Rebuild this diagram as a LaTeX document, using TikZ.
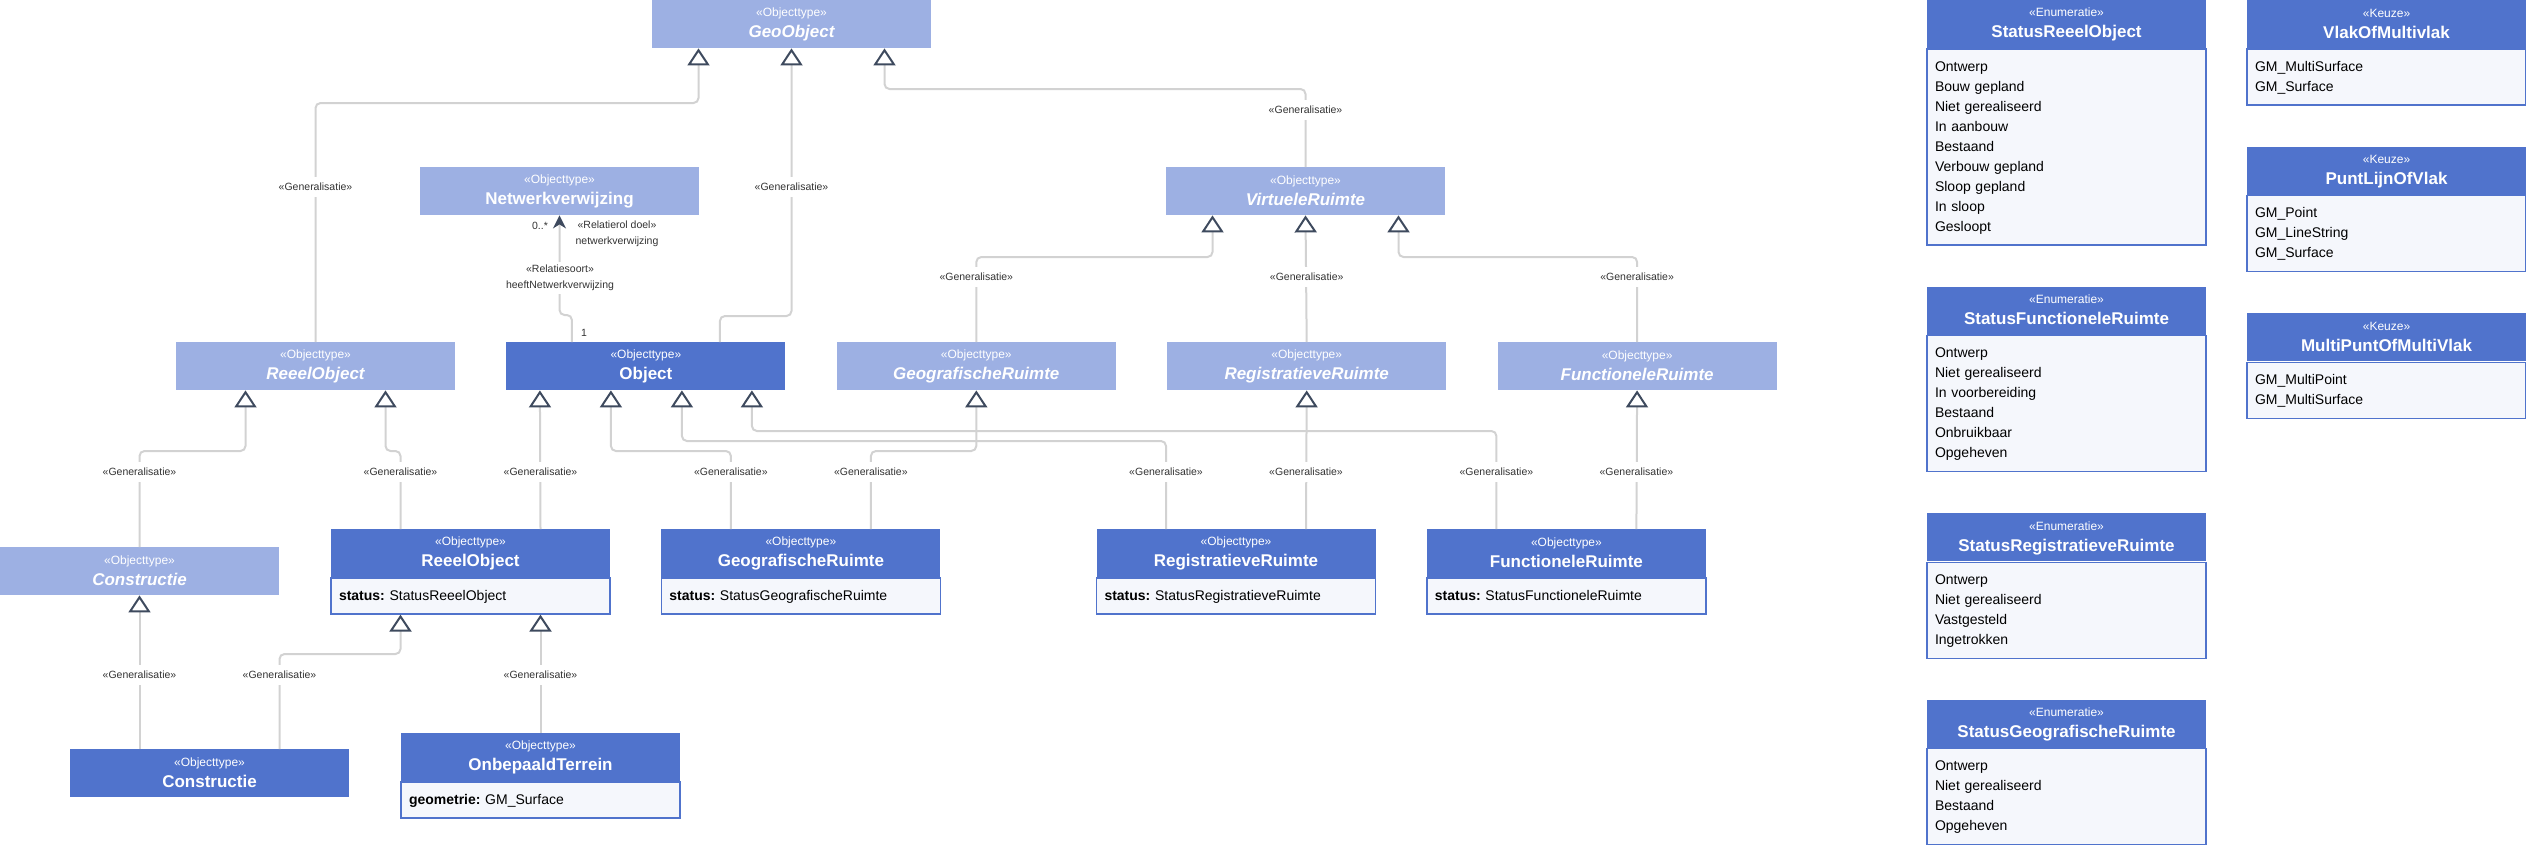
\documentclass[tikz,border=0pt]{standalone}
\usepackage{fontspec}
\setmainfont{Liberation Sans}
\usetikzlibrary{arrows.meta,positioning}
\definecolor{hdrdark}{HTML}{5073CC}
\definecolor{hdrlight}{HTML}{9DB0E3}
\definecolor{bodyfill}{HTML}{F5F7FC}
\definecolor{linegray}{HTML}{D2D2D2}
\definecolor{tipdark}{HTML}{3E4A5E}
\definecolor{lbltext}{HTML}{333333}
\newcommand\stereo[1]{{\mdseries\upshape\fontsize{12}{21}\selectfont «#1»}}
\tikzset{
  classhead/.style={rectangle,fill=hdrdark,text=white,anchor=north,
    minimum width=279pt,minimum height=48pt,text width=263pt,
    inner xsep=8pt,inner ysep=0pt,align=center,
    font=\fontsize{17}{21}\selectfont\bfseries,
    execute at begin node={\rule{0pt}{10pt}},
    execute at end node={\rule[-3pt]{0pt}{3pt}}},
  lighthead/.style={classhead,fill=hdrlight},
  abshead/.style={lighthead,font=\fontsize{17}{21}\selectfont\bfseries\itshape},
  classbody/.style={rectangle,draw=hdrdark,line width=1.2pt,fill=bodyfill,
    text=black,anchor=north,text width=263pt,inner xsep=8pt,inner ysep=8pt,
    align=left,font=\fontsize{14}{20}\selectfont\frenchspacing,
    execute at begin node={\rule{0pt}{14pt}},
    execute at end node={\rule[-6pt]{0pt}{6pt}}},
  genline/.style={draw=linegray,line width=2pt,rounded corners=5pt,
    -{Triangle[open,fill=white,color=tipdark,line width=2pt,length=17pt,width=22pt]}},
  navline/.style={draw=linegray,line width=2pt,rounded corners=5pt,
    -{Stealth[length=13pt,width=13pt,inset=4pt,color=tipdark]}},
  genlabel/.style={fill=white,text=lbltext,font=\fontsize{10.5}{12}\selectfont,
    inner xsep=2pt,inner ysep=6pt},
  asslabel/.style={text=lbltext,font=\fontsize{10.5}{16}\selectfont,
    inner sep=2pt,align=center},
}

\begin{document}
\begin{tikzpicture}[x=1pt,y=-1pt]
  \useasboundingbox (0,0) rectangle (2526,844);

  %% ── Top: GeoObject, Netwerkverwijzing, VirtueleRuimte ─────────────────────
  \node[abshead]   (geoobject) at (791.5,0)   {\stereo{Objecttype}\\GeoObject};
  \node[lighthead] (netwerk)   at (559.5,167) {\stereo{Objecttype}\\Netwerkverwijzing};
  \node[abshead]   (virtueel)  at (1305.5,167){\stereo{Objecttype}\\VirtueleRuimte};

  %% ── Abstract row ──────────────────────────────────────────────────────────
  \node[abshead] (reeelabs) at (315.5,342) {\stereo{Objecttype}\\ReeelObject};
  \node[classhead, right=51pt of reeelabs] (object)  {\stereo{Objecttype}\\Object};
  \node[abshead, right=51pt of object]     (geoabs)  {\stereo{Objecttype}\\GeografischeRuimte};
  \node[abshead, right=51pt of geoabs]     (regabs)  {\stereo{Objecttype}\\RegistratieveRuimte};
  \node[abshead, right=51pt of regabs]     (funcabs) {\stereo{Objecttype}\\FunctioneleRuimte};

  %% ── Concrete row ──────────────────────────────────────────────────────────
  \node[abshead] (constrabs) at (139.5,547) {\stereo{Objecttype}\\Constructie};
  \node[classhead] (reeel) at (470.5,529) {\stereo{Objecttype}\\ReeelObject};
  \node[classbody, below=0pt of reeel] (reeelbody) {\textbf{status:} StatusReeelObject};
  \node[classhead, right=51pt of reeel] (geo) {\stereo{Objecttype}\\GeografischeRuimte};
  \node[classbody, below=0pt of geo] (geobody) {\textbf{status:} StatusGeografischeRuimte};
  \node[classhead] (reg) at (1236,529) {\stereo{Objecttype}\\RegistratieveRuimte};
  \node[classbody, below=0pt of reg] (regbody) {\textbf{status:} StatusRegistratieveRuimte};
  \node[classhead, right=51pt of reg] (func) {\stereo{Objecttype}\\FunctioneleRuimte};
  \node[classbody, below=0pt of func] (funcbody) {\textbf{status:} StatusFunctioneleRuimte};

  %% ── Bottom row ────────────────────────────────────────────────────────────
  \node[classhead] (constr) at (209.5,749) {\stereo{Objecttype}\\Constructie};
  \node[classhead] (onbepaald) at (540.5,733) {\stereo{Objecttype}\\OnbepaaldTerrein};
  \node[classbody, below=0pt of onbepaald] (onbepaaldbody) {\textbf{geometrie:} GM\_Surface};

  %% ── Enumerations ──────────────────────────────────────────────────────────
  \node[classhead] (statreeel) at (2066.5,0) {\stereo{Enumeratie}\\StatusReeelObject};
  \node[classbody, below=0pt of statreeel] (statreeellist)
    {Ontwerp\\Bouw gepland\\Niet gerealiseerd\\In aanbouw\\Bestaand\\Verbouw gepland\\Sloop gepland\\In sloop\\Gesloopt};
  \node[classhead, below=41pt of statreeellist] (statfunc) {\stereo{Enumeratie}\\StatusFunctioneleRuimte};
  \node[classbody, below=0pt of statfunc] (statfunclist)
    {Ontwerp\\Niet gerealiseerd\\In voorbereiding\\Bestaand\\Onbruikbaar\\Opgeheven};
  \node[classhead, below=41pt of statfunclist] (statreg) {\stereo{Enumeratie}\\StatusRegistratieveRuimte};
  \node[classbody, below=0pt of statreg] (statreglist)
    {Ontwerp\\Niet gerealiseerd\\Vastgesteld\\Ingetrokken};
  \node[classhead, below=41pt of statreglist] (statgeo) {\stereo{Enumeratie}\\StatusGeografischeRuimte};
  \node[classbody, below=0pt of statgeo] (statgeolist)
    {Ontwerp\\Niet gerealiseerd\\Bestaand\\Opgeheven};

  %% ── Keuzes ────────────────────────────────────────────────────────────────
  \node[classhead] (vlak) at (2386.5,0) {\stereo{Keuze}\\VlakOfMultivlak};
  \node[classbody, below=0pt of vlak] (vlaklist) {GM\_MultiSurface\\GM\_Surface};
  \node[classhead, below=41pt of vlaklist] (punt) {\stereo{Keuze}\\PuntLijnOfVlak};
  \node[classbody, below=0pt of punt] (puntlist) {GM\_Point\\GM\_LineString\\GM\_Surface};
  \node[classhead, below=41pt of puntlist] (multi) {\stereo{Keuze}\\MultiPuntOfMultiVlak};
  \node[classbody, below=0pt of multi] (multilist) {GM\_MultiPoint\\GM\_MultiSurface};

  %% ── Lanes for the bends ───────────────────────────────────────────────────
  \coordinate (laneA) at (0,103);
  \coordinate (laneB) at (0,316);
  \coordinate (laneC) at (0,89);
  \coordinate (laneD) at (0,257);
  \coordinate (laneE) at (0,451);
  \coordinate (laneF) at (0,441);
  \coordinate (laneG) at (0,431);
  \coordinate (laneH) at (0,654);
  \coordinate (laneN) at (0,315);

  %% ── Generalisations ───────────────────────────────────────────────────────
  \draw[genline] (reeelabs.north) -- (reeelabs.north |- laneA) -| ([xshift=-93pt]geoobject.south);
  \draw[genline] ([xshift=74pt]object.north) -- ([xshift=74pt]object.north |- laneB) -| (geoobject.south);
  \draw[genline] (virtueel.north) -- (virtueel.north |- laneC) -| ([xshift=93pt]geoobject.south);
  \draw[genline] (geoabs.north) -- (geoabs.north |- laneD) -| ([xshift=-93pt]virtueel.south);
  \draw[genline] (regabs.north) -- (virtueel.south);
  \draw[genline] (funcabs.north) -- (funcabs.north |- laneD) -| ([xshift=93pt]virtueel.south);

  \draw[genline] (constrabs.north) -- (constrabs.north |- laneE) -| ([xshift=-70pt]reeelabs.south);
  \draw[genline] ([xshift=-70pt]reeel.north) -- ([xshift=-70pt]reeel.north |- laneE) -| ([xshift=70pt]reeelabs.south);
  \draw[genline] ([xshift=70pt]reeel.north) -- ([xshift=-106pt]object.south);
  \draw[genline] ([xshift=-70pt]geo.north) -- ([xshift=-70pt]geo.north |- laneE) -| ([xshift=-35pt]object.south);
  \draw[genline] ([xshift=-70pt]reg.north) -- ([xshift=-70pt]reg.north |- laneF) -| ([xshift=36pt]object.south);
  \draw[genline] ([xshift=-70pt]func.north) -- ([xshift=-70pt]func.north |- laneG) -| ([xshift=106pt]object.south);
  \draw[genline] ([xshift=70pt]geo.north) -- ([xshift=70pt]geo.north |- laneE) -| (geoabs.south);
  \draw[genline] ([xshift=70pt]reg.north) -- (regabs.south);
  \draw[genline] ([xshift=70pt]func.north) -- (funcabs.south);

  \draw[genline] ([xshift=-70pt]constr.north) -- (constrabs.south);
  \draw[genline] ([xshift=70pt]constr.north) -- ([xshift=70pt]constr.north |- laneH) -| ([xshift=-70pt]reeelbody.south);
  \draw[genline] (onbepaald.north) -- ([xshift=70pt]reeelbody.south);

  %% ── Association Object -> Netwerkverwijzing ───────────────────────────────
  \draw[navline] ([xshift=-74pt]object.north) -- ([xshift=-74pt]object.north |- laneN) -| (netwerk.south);

  %% ── Labels ────────────────────────────────────────────────────────────────
  \coordinate (lblA) at (0,187);
  \coordinate (lblB) at (0,110);
  \coordinate (lblC) at (0,277);
  \coordinate (lblD) at (0,472);
  \coordinate (lblE) at (0,675);

  \node[genlabel] (g1)  at (reeelabs.north |- lblA) {«Generalisatie»};
  \node[genlabel] (g2)  at (geoobject.south |- lblA) {«Generalisatie»};
  \node[genlabel] (g3)  at (virtueel.north |- lblB) {«Generalisatie»};
  \node[genlabel] (g4)  at (geoabs.north |- lblC) {«Generalisatie»};
  \node[genlabel] (g5)  at (regabs.north |- lblC) {«Generalisatie»};
  \node[genlabel] (g6)  at (funcabs.north |- lblC) {«Generalisatie»};
  \node[genlabel] (g7)  at (constrabs.north |- lblD) {«Generalisatie»};
  \node[genlabel] (g8)  at ([xshift=-70pt]reeel.north |- lblD) {«Generalisatie»};
  \node[genlabel] (g9)  at ([xshift=70pt]reeel.north |- lblD) {«Generalisatie»};
  \node[genlabel] (g10) at ([xshift=-70pt]geo.north |- lblD) {«Generalisatie»};
  \node[genlabel] (g11) at ([xshift=70pt]geo.north |- lblD) {«Generalisatie»};
  \node[genlabel] (g12) at ([xshift=-70pt]reg.north |- lblD) {«Generalisatie»};
  \node[genlabel] (g13) at ([xshift=70pt]reg.north |- lblD) {«Generalisatie»};
  \node[genlabel] (g14) at ([xshift=-70pt]func.north |- lblD) {«Generalisatie»};
  \node[genlabel] (g15) at ([xshift=70pt]func.north |- lblD) {«Generalisatie»};
  \node[genlabel] (g16) at ([xshift=-70pt]constr.north |- lblE) {«Generalisatie»};
  \node[genlabel] (g17) at ([xshift=70pt]constr.north |- lblE) {«Generalisatie»};
  \node[genlabel] (g18) at (onbepaald.north |- lblE) {«Generalisatie»};

  \node[asslabel] (mult0) at (540,226) {0..*};
  \node[asslabel] (role)  at (617,234) {«Relatierol doel»\\netwerkverwijzing};
  \node[asslabel,fill=white,inner sep=3pt] (relsoort) at (560,278) {«Relatiesoort»\\heeftNetwerkverwijzing};
  \node[asslabel] (mult1) at (584,333) {1};

\end{tikzpicture}
\end{document}
